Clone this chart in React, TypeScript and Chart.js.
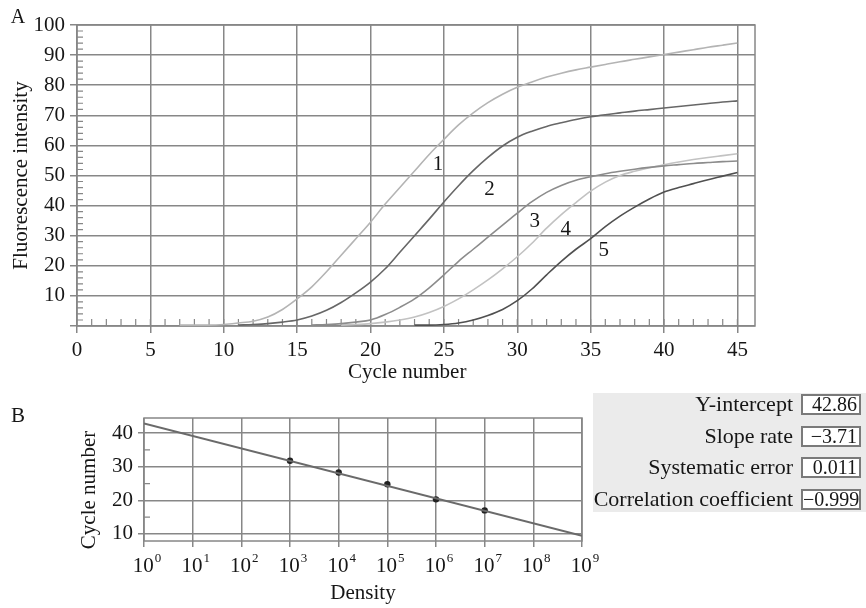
import React, { useEffect, useRef } from "react";
import { Chart, registerables } from "chart.js";
Chart.register(...registerables);

const FONT = "'Liberation Serif', 'Times New Roman', serif";
const GRID = "#878787";
const INK = "#161616";

// ---------- Panel A: amplification curves ----------
const curve1Start = 7;
const curve1 = [0.3, 0.3, 0.3, 0.5, 1, 1.6, 3, 5.5, 9, 13, 18, 23.5, 29, 34.5, 40.5, 46, 51.5, 57, 62, 66.8, 70.8, 74.2, 77, 79.3, 81.1, 82.7, 84, 85.1, 86, 86.9, 87.8, 88.6, 89.4, 90.2, 91, 91.8, 92.6, 93.3, 94];
const curve2Start = 11;
const curve2 = [0.3, 0.5, 0.8, 1.3, 2, 3.3, 5.2, 7.8, 11, 14.6, 19, 24.5, 30, 35.5, 41.2, 46.6, 51.6, 56, 59.8, 62.7, 64.7, 66.3, 67.5, 68.6, 69.5, 70.2, 70.8, 71.4, 71.9, 72.4, 72.9, 73.4, 73.9, 74.4, 74.8];
const curve3Start = 16;
const curve3 = [0.3, 0.5, 0.8, 1.3, 2, 3.8, 6.2, 9, 12.7, 17, 21.5, 25.5, 29.5, 33.5, 37.5, 41.3, 44.4, 46.7, 48.4, 49.6, 50.6, 51.4, 52.1, 52.7, 53.2, 53.6, 54, 54.3, 54.6, 54.8];
const curve4Start = 18;
const curve4 = [0.3, 0.5, 0.8, 1.3, 2, 3, 4.5, 6.5, 9, 12, 15.3, 19, 23, 27.5, 32.5, 37, 41, 44.8, 47.8, 50, 51.4, 52.6, 53.6, 54.5, 55.3, 56, 56.6, 57.2];
const curve5Start = 23;
const curve5 = [0.3, 0.3, 0.5, 1, 2, 3.5, 5.5, 8.4, 12.3, 17, 21.5, 25.5, 29, 33, 36.5, 39.5, 42.2, 44.5, 46, 47.3, 48.6, 49.8, 51];

const curveStarts = [curve1Start, curve2Start, curve3Start, curve4Start, curve5Start];
const curveValues = [curve1, curve2, curve3, curve4, curve5];
const curveColors = ["#b4b4b4", "#676767", "#8c8c8c", "#c2c2c2", "#505050"];

const curveLabels = ["1", "2", "3", "4", "5"];
const labelCycle = [24.6, 28.1, 31.2, 33.3, 35.9];
const labelIntensity = [53.5, 45.2, 34.7, 32.1, 25.0];

// ---------- Panel B: standard curve ----------
const densityExponents = [0, 1, 2, 3, 4, 5, 6, 7, 8, 9];
const sampleDensity = [1e3, 1e4, 1e5, 1e6, 1e7];
const sampleCycle = [31.8, 28.3, 24.8, 20.3, 17.0];
const fitDensity = [1, 1e9];
const fitCycle = [42.86, 9.47];
const yTicksB = [10, 20, 30, 40];
const yMinorB = [15, 25, 35];

// ---------- Table ----------
const tableLabels = ["Y-intercept", "Slope rate", "Systematic error", "Correlation coefficient"];
const tableValues = ["42.86", "\u22123.71", "0.011", "\u22120.999"];

const panelAPlugin = {
  id: "panelA",
  beforeDatasetsDraw(chart: any) {
    const { ctx, chartArea: a, scales } = chart;
    const x = scales.x, y = scales.y;
    ctx.save();
    ctx.strokeStyle = GRID;
    ctx.lineWidth = 1.5;
    ctx.strokeRect(a.left, a.top, a.right - a.left, a.bottom - a.top);
    ctx.lineWidth = 1.2;
    ctx.beginPath();
    for (let c = 1; c <= 45; c++) {
      const px = x.getPixelForValue(c);
      ctx.moveTo(px, a.bottom);
      ctx.lineTo(px, a.bottom - 7);
    }
    for (let v = 2; v < 100; v += 2) {
      if (v % 10 === 0) continue;
      const py = y.getPixelForValue(v);
      ctx.moveTo(a.left, py);
      ctx.lineTo(a.left + 6, py);
    }
    ctx.stroke();
    ctx.restore();
  },
  afterDraw(chart: any) {
    const { ctx, scales } = chart;
    const x = scales.x, y = scales.y;
    ctx.save();
    ctx.fillStyle = INK;
    ctx.font = `21px ${FONT}`;
    ctx.textAlign = "center";
    ctx.textBaseline = "middle";
    curveLabels.forEach((t, i) => {
      ctx.fillText(t, x.getPixelForValue(labelCycle[i]), y.getPixelForValue(labelIntensity[i]));
    });
    ctx.fillText("Cycle number", x.getPixelForValue(22.5), 372);
    ctx.font = `20px ${FONT}`;
    ctx.fillText("A", 18, 18);
    ctx.restore();
  },
};

const panelBPlugin = {
  id: "panelB",
  beforeDatasetsDraw(chart: any) {
    const { ctx, chartArea: a, scales } = chart;
    const y = scales.y;
    ctx.save();
    ctx.strokeStyle = GRID;
    ctx.lineWidth = 1.5;
    ctx.strokeRect(a.left, a.top, a.right - a.left, a.bottom - a.top);
    ctx.lineWidth = 1.2;
    ctx.beginPath();
    yMinorB.forEach((v) => {
      const py = y.getPixelForValue(v);
      ctx.moveTo(a.left, py);
      ctx.lineTo(a.left + 6, py);
    });
    ctx.stroke();
    ctx.restore();
  },
  afterDraw(chart: any) {
    const { ctx, scales } = chart;
    const x = scales.x;
    ctx.save();
    ctx.fillStyle = INK;
    ctx.textBaseline = "alphabetic";
    densityExponents.forEach((e) => {
      const px = x.getPixelForValue(Math.pow(10, e));
      ctx.font = `21px ${FONT}`;
      const w1 = ctx.measureText("10").width;
      ctx.font = `13px ${FONT}`;
      const w2 = ctx.measureText(String(e)).width;
      const start = px + 3 - (w1 + w2 + 1) / 2;
      ctx.font = `21px ${FONT}`;
      ctx.textAlign = "left";
      ctx.fillText("10", start, 182);
      ctx.font = `13px ${FONT}`;
      ctx.fillText(String(e), start + w1 + 1, 172);
    });
    ctx.textAlign = "center";
    ctx.textBaseline = "middle";
    ctx.font = `21px ${FONT}`;
    ctx.fillText("Density", 363, 203);
    ctx.fillText("B", 18, 26);
    ctx.translate(89, 100);
    ctx.rotate(-Math.PI / 2);
    ctx.fillText("Cycle number", 0, 0);
    ctx.restore();
  },
};

function PanelA() {
  const ref = useRef<HTMLCanvasElement>(null);
  useEffect(() => {
    const datasets = curveValues.map((vals, i) => ({
      label: curveLabels[i],
      data: vals.map((v, k) => ({ x: curveStarts[i] + k, y: v })),
      borderColor: curveColors[i],
      borderWidth: 1.6,
      pointRadius: 0,
      fill: false,
      cubicInterpolationMode: "monotone" as const,
    }));
    const chart = new Chart(ref.current!, {
      type: "line",
      data: { datasets },
      plugins: [panelAPlugin],
      options: {
        responsive: false,
        animation: false,
        layout: { padding: { top: 25, right: 25, left: 0, bottom: 0 } },
        plugins: { legend: { display: false }, tooltip: { enabled: false } },
        scales: {
          x: {
            type: "linear",
            min: 0,
            max: 46.2,
            ticks: { stepSize: 5, includeBounds: false, font: { family: FONT, size: 21 }, color: INK, padding: 5, maxRotation: 0 },
            grid: { color: GRID, lineWidth: 1.5, tickLength: 7 },
            border: { display: false },
            afterFit: (s: any) => { s.height = 64; },
          },
          y: {
            type: "linear",
            min: 0,
            max: 100,
            ticks: {
              stepSize: 10,
              font: { family: FONT, size: 21 },
              color: INK,
              padding: 5,
              callback: (v: any) => (v === 0 ? "" : String(v)),
            },
            grid: { color: GRID, lineWidth: 1.5, tickLength: 7 },
            border: { display: false },
            title: { display: true, text: "Fluorescence intensity", font: { family: FONT, size: 21 }, color: INK, padding: { top: 9, bottom: 0 } },
            afterFit: (s: any) => { s.width = 77; },
          },
        },
      },
    } as any);
    return () => chart.destroy();
  }, []);
  return <canvas ref={ref} width={780} height={390} style={{ position: "absolute", left: 0, top: 0 }} />;
}

function PanelB() {
  const ref = useRef<HTMLCanvasElement>(null);
  useEffect(() => {
    const chart = new Chart(ref.current!, {
      type: "line",
      data: {
        datasets: [
          {
            label: "fit",
            data: fitDensity.map((d, i) => ({ x: d, y: fitCycle[i] })),
            borderColor: "#6a6a6a",
            borderWidth: 2,
            pointRadius: 0,
            fill: false,
          },
          {
            label: "samples",
            data: sampleDensity.map((d, i) => ({ x: d, y: sampleCycle[i] })),
            showLine: false,
            pointRadius: 3.2,
            pointBackgroundColor: "#222",
            pointBorderColor: "#222",
            pointBorderWidth: 0,
          },
        ],
      },
      plugins: [panelBPlugin],
      options: {
        responsive: false,
        animation: false,
        layout: { padding: { top: 28, right: 18, left: 0, bottom: 0 } },
        plugins: { legend: { display: false }, tooltip: { enabled: false } },
        scales: {
          x: {
            type: "logarithmic",
            min: 1,
            max: 1e9,
            ticks: { display: false },
            afterBuildTicks: (s: any) => { s.ticks = densityExponents.map((e) => ({ value: Math.pow(10, e) })); },
            grid: { color: GRID, lineWidth: 1.5, tickLength: 6 },
            border: { display: false },
            afterFit: (s: any) => { s.height = 67; },
          },
          y: {
            type: "linear",
            min: 7.9,
            max: 44.5,
            afterBuildTicks: (s: any) => { s.ticks = yTicksB.map((v) => ({ value: v })); },
            ticks: { font: { family: FONT, size: 21 }, color: INK, padding: 5 },
            grid: { color: GRID, lineWidth: 1.5, tickLength: 6 },
            border: { display: false },
            afterFit: (s: any) => { s.width = 144; },
          },
        },
      },
    } as any);
    return () => chart.destroy();
  }, []);
  return <canvas ref={ref} width={600} height={218} style={{ position: "absolute", left: 0, top: 390 }} />;
}

function StatsTable() {
  const centers = [404, 436, 467, 499];
  return (
    <div style={{ position: "absolute", left: 593, top: 393, width: 273, height: 119, background: "#ebebeb" }}>
      {tableLabels.map((t, i) => (
        <React.Fragment key={t}>
          <div
            style={{
              position: "absolute",
              left: 0,
              width: 200,
              top: centers[i] - 393 - 12,
              height: 24,
              lineHeight: "24px",
              textAlign: "right",
              fontFamily: FONT,
              fontSize: 22,
              color: INK,
              whiteSpace: "nowrap",
            }}
          >
            {t}
          </div>
          <div
            style={{
              position: "absolute",
              left: 208,
              width: 54,
              top: centers[i] - 393 - 10,
              height: 17,
              lineHeight: "17px",
              border: "2px solid #7a7a7a",
              background: "#fff",
              textAlign: "right",
              paddingRight: 2,
              fontFamily: FONT,
              fontSize: 20,
              color: INK,
              whiteSpace: "nowrap",
            }}
          >
            {tableValues[i]}
          </div>
        </React.Fragment>
      ))}
    </div>
  );
}

export default function App() {
  return (
    <div style={{ position: "fixed", left: 0, top: 0, width: 866, height: 608, background: "#fff", overflow: "hidden" }}>
      <PanelA />
      <PanelB />
      <StatsTable />
    </div>
  );
}
